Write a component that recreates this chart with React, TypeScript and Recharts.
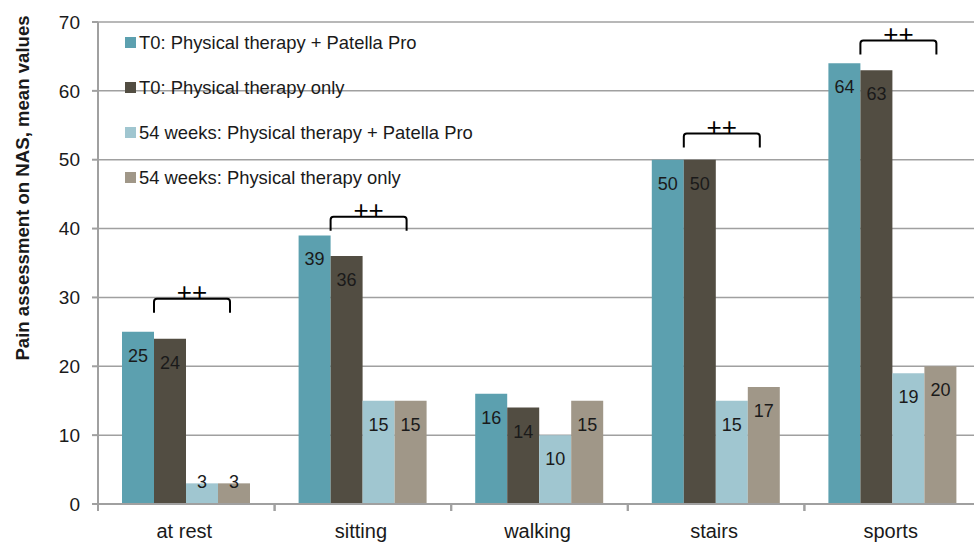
import {Bar, BarChart, CartesianGrid, LabelList, Legend, XAxis, YAxis} from "recharts";

const categories = ["at rest", "sitting", "walking", "stairs", "sports"];
const t0Combined = [25, 39, 16, 50, 64];
const t0PhysioOnly = [24, 36, 14, 50, 63];
const week54Combined = [3, 15, 10, 15, 19];
const week54PhysioOnly = [3, 15, 15, 17, 20];
// height of the significance bracket, in NAS units (none for walking)
const bracketLevels: (number | null)[] = [29.8, 41.7, null, 53.8, 67.3];
const bracketMark = "++";
const yTicks = [0, 10, 20, 30, 40, 50, 60, 70];

const seriesNames = [
	"T0: Physical therapy + Patella Pro",
	"T0: Physical therapy only",
	"54 weeks: Physical therapy + Patella Pro",
	"54 weeks: Physical therapy only",
];

const FONT = "'Liberation Sans', Arial, sans-serif";
const AXIS_GRAY = "#a0a0a0";
const TEXT = "#1a1a1a";
const COLORS = ["#5ca0af", "#524d42", "#a0c6d0", "#a09788"];

const CHART_W = 1000;
const CHART_H = 544;
const MARGIN = {top: 22, right: 19, left: 38, bottom: 10};
const Y_AXIS_W = 60;
const BAND = (CHART_W - MARGIN.left - MARGIN.right - Y_AXIS_W) / categories.length;

const data = categories.map((name, i) => ({
	name,
	t0Combined: t0Combined[i],
	t0PhysioOnly: t0PhysioOnly[i],
	week54Combined: week54Combined[i],
	week54PhysioOnly: week54PhysioOnly[i],
}));

function ValueLabel(props: any) {
	const {x, y, width, height, value} = props;
	if (value == null) return null;
	const cy = height > 30 ? y + 24 : y - 1;
	return (
		<text x={x + width / 2} y={cy} textAnchor="middle" dominantBaseline="central"
		      fontSize={18} fontFamily={FONT} fill={TEXT}>
			{value}
		</text>
	);
}

function BracketLabel(props: any) {
	const {x, y, width, height, index} = props;
	const level = bracketLevels[index];
	if (level == null) return null;
	const unit = height / t0PhysioOnly[index];
	const top = y + height - level * unit;
	const left = x;
	const right = left + width * 2.375;
	const drop = 14;
	const r = 3;
	const d = `M${left},${top + drop} L${left},${top + r} Q${left},${top} ${left + r},${top} ` +
		`L${right - r},${top} Q${right},${top} ${right},${top + r} L${right},${top + drop}`;
	return (
		<g>
			<path d={d} fill="none" stroke="#000" strokeWidth={2}/>
			<text x={(left + right) / 2} y={top + 2} textAnchor="middle" fontSize={26}
			      fontFamily={FONT} fill="#000">
				{bracketMark}
			</text>
		</g>
	);
}

function CategoryTick({x, y, payload}: any) {
	const half = BAND / 2;
	return (
		<g>
			<line x1={x - half} x2={x - half} y1={y} y2={y + 7} stroke={AXIS_GRAY} strokeWidth={2}/>
			<line x1={x + half} x2={x + half} y1={y} y2={y + 7} stroke={AXIS_GRAY} strokeWidth={2}/>
			<text x={x - 2} y={y + 34} textAnchor="middle" fontSize={20} fontFamily={FONT} fill={TEXT}>
				{payload.value}
			</text>
		</g>
	);
}

function LegendBox({payload}: any) {
	const items = [...(payload || [])].sort(
		(a: any, b: any) => seriesNames.indexOf(a.value) - seriesNames.indexOf(b.value));
	return (
		<div style={{fontFamily: FONT, fontSize: 18.4, color: TEXT}}>
			{items.map((entry: any) => (
				<div key={entry.value} style={{display: "flex", alignItems: "center", height: 45}}>
					<div style={{width: 11, height: 11, backgroundColor: entry.color, marginRight: 3}}/>
					<span style={{whiteSpace: "nowrap"}}>{entry.value}</span>
				</div>
			))}
		</div>
	);
}

function AxisTitle() {
	return (
		<text x={22} y={188} transform="rotate(-90, 22, 188)" textAnchor="middle"
		      dominantBaseline="central" fontSize={18.6} fontWeight="bold" fontFamily={FONT} fill={TEXT}>
			Pain assessment on NAS, mean values
		</text>
	);
}

export default function App() {
	return (
		<div style={{position: "fixed", left: 0, top: 0, width: 974, height: 544, overflow: "hidden", background: "#fff"}}>
			<BarChart width={CHART_W} height={CHART_H} data={data} margin={MARGIN} barSize={32} barGap={0}>
				<CartesianGrid vertical={false} stroke={AXIS_GRAY} strokeWidth={1.5}/>
				<XAxis dataKey="name" height={30} tickLine={false} tickSize={0} tickMargin={0}
				       axisLine={{stroke: AXIS_GRAY, strokeWidth: 2}} tick={<CategoryTick/>} interval={0}/>
				<YAxis width={Y_AXIS_W} domain={[0, 70]} ticks={yTicks} interval={0}
				       axisLine={{stroke: AXIS_GRAY, strokeWidth: 2}} tickLine={{stroke: AXIS_GRAY, strokeWidth: 2}}
				       tickSize={6} tickMargin={12}
				       tick={{fontSize: 19, fontFamily: FONT, fill: TEXT}}
				       label={{content: <AxisTitle/>}}/>
				<Legend layout="vertical" verticalAlign="middle" align="center" content={<LegendBox/>}
				        wrapperStyle={{left: 125, top: 20, width: "auto", height: "auto"}}/>
				<Bar dataKey="t0Combined" name={seriesNames[0]} fill={COLORS[0]} isAnimationActive={false}>
					<LabelList dataKey="t0Combined" content={<ValueLabel/>}/>
				</Bar>
				<Bar dataKey="t0PhysioOnly" name={seriesNames[1]} fill={COLORS[1]} isAnimationActive={false}>
					<LabelList dataKey="t0PhysioOnly" content={<ValueLabel/>}/>
					<LabelList dataKey="t0PhysioOnly" content={<BracketLabel/>}/>
				</Bar>
				<Bar dataKey="week54Combined" name={seriesNames[2]} fill={COLORS[2]} isAnimationActive={false}>
					<LabelList dataKey="week54Combined" content={<ValueLabel/>}/>
				</Bar>
				<Bar dataKey="week54PhysioOnly" name={seriesNames[3]} fill={COLORS[3]} isAnimationActive={false}>
					<LabelList dataKey="week54PhysioOnly" content={<ValueLabel/>}/>
				</Bar>
			</BarChart>
		</div>
	);
}
